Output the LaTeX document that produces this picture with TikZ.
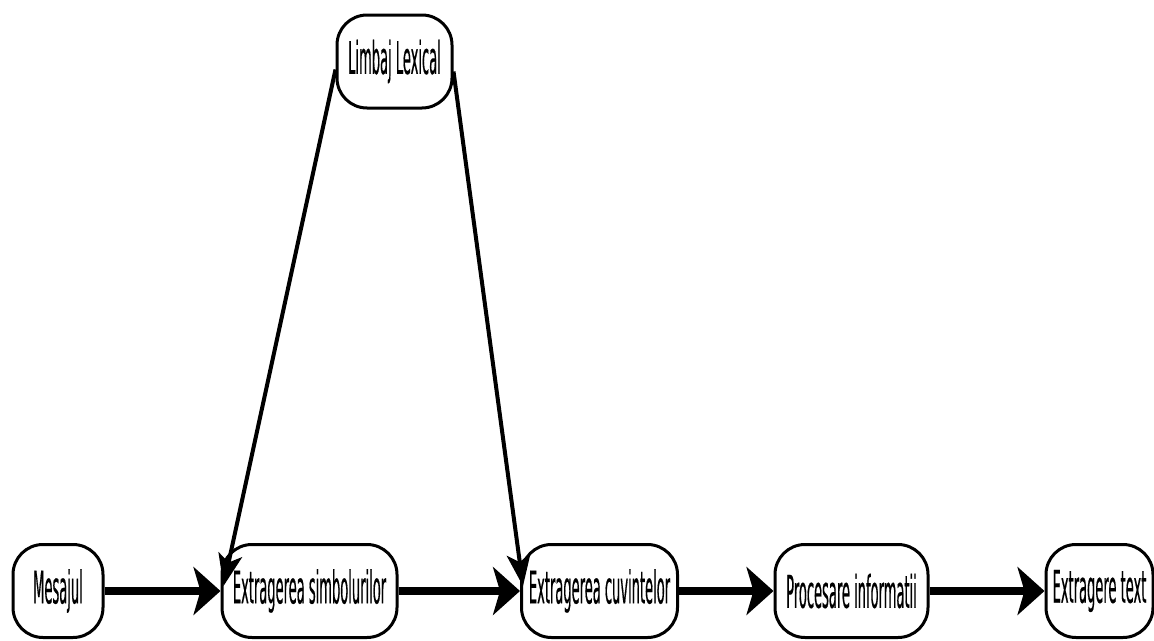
\documentclass[tikz,border=0pt]{standalone}
\usepackage{fontspec}
\newfontfamily\boxfont[FakeStretch=0.29, FakeBold=0.3]{DejaVu Sans}
\usetikzlibrary{arrows.meta, calc}

\begin{document}
\begin{tikzpicture}[x=1cm, y=1cm, >=Stealth,
		etapa/.style={draw, line width=0.03cm, rounded corners=0.3cm, minimum height=0.93cm, inner sep=0.04cm, font=\boxfont\fontsize{12.8}{14}\selectfont},
		flux/.style={line width=0.08cm, arrows={-Stealth[length=0.27cm, width=0.48cm, inset=0.07cm]}},
		lexic/.style={line width=0.04cm, arrows={-Stealth[length=0.32cm, width=0.24cm, inset=0.08cm]}}]
	\useasboundingbox (0,0) rectangle (11.54,6.40);
	
	% etapele de jos
	\node[etapa, minimum width=0.90cm] (mes) at (0.58,0.49) {Mesajul};
	\node[etapa, minimum width=1.75cm] (simb) at (3.095,0.49) {Extragerea simbolurilor};
	\node[etapa, minimum width=1.56cm] (cuv) at (5.995,0.49) {Extragerea cuvintelor};
	\node[etapa, minimum width=1.53cm] (proc) at (8.515,0.49) {Procesare informatii};
	\node[etapa, minimum width=1.07cm] (txt) at (10.995,0.49) {Extragere text};
	
	% limbajul
	\node[etapa, minimum width=1.15cm] (lex) at (3.945,5.785) {Limbaj Lexical};
	
	\draw[flux] (mes) -- (simb);
	\draw[flux] (simb) -- (cuv);
	\draw[flux] (cuv) -- (proc);
	\draw[flux] (proc) -- (txt);
	
	\draw[lexic] ($(lex.west)+(0,-0.08)$) -- ($(simb.west)+(0.03,0.05)$);
	\draw[lexic] ($(lex.east)+(0,-0.1)$) -- ($(cuv.west)+(0.03,0.05)$);
\end{tikzpicture}
\end{document}
